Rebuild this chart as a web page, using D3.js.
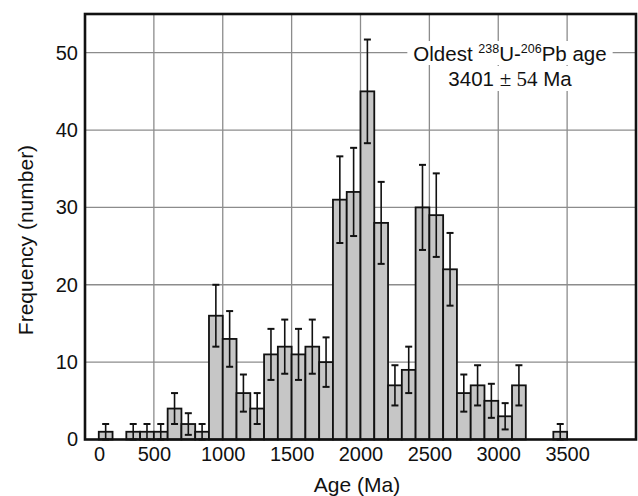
<!DOCTYPE html>
<html>
<head>
<meta charset="utf-8">
<script src="https://cdn.jsdelivr.net/npm/d3@7"></script>
<style>
  body { margin: 0; background: #fff; }
  svg text { font-family: "Liberation Sans", Arial, sans-serif; fill: #111; }
</style>
</head>
<body>
<div id="chart"></div>
<script>
// Histogram bins (start age, Ma), counts and error half-widths
const binStarts = [100, 300, 400, 500, 600, 700, 800, 900, 1000, 1100, 1200, 1300, 1400, 1500, 1600, 1700,
    1800, 1900, 2000, 2100, 2200, 2300, 2400, 2500, 2600, 2700, 2800, 2900, 3000, 3100, 3400];
const counts = [1, 1, 1, 1, 4, 2, 1, 16, 13, 6, 4, 11, 12, 11, 12, 10,
    31, 32, 45, 28, 7, 9, 30, 29, 22, 6, 7, 5, 3, 7, 1];
const errors = [1, 1, 1, 1, 2, 1.4, 1, 4, 3.6, 2.4, 2, 3.3, 3.5, 3.3, 3.5, 3.2,
    5.6, 5.7, 6.7, 5.3, 2.6, 3, 5.5, 5.4, 4.7, 2.4, 2.6, 2.2, 1.7, 2.6, 1];
const binWidth = 100;
const xTicks = [0, 500, 1000, 1500, 2000, 2500, 3000, 3500];
const xGrid = [500, 1000, 1500, 2000, 2500, 3000, 3500];
const yTicks = [0, 10, 20, 30, 40, 50];
const yGrid = [10, 20, 30, 40, 50];

const width = 638;
const height = 496;
const margin = { top: 14, right: 2, bottom: 56.5, left: 85 };

const svg = d3.select('#chart')
    .append('svg')
    .attr('width', width)
    .attr('height', height);

const x = d3.scaleLinear()
    .domain([0, 4000])
    .range([margin.left, width - margin.right]);

const y = d3.scaleLinear()
    .domain([0, 55])
    .range([height - margin.bottom, margin.top]);

// grid
svg.append('g')
    .selectAll('line')
    .data(xGrid)
    .enter().append('line')
    .attr('x1', d => x(d)).attr('x2', d => x(d))
    .attr('y1', y(55)).attr('y2', y(0))
    .attr('stroke', '#8c8c8c')
    .attr('stroke-width', 1.3);

svg.append('g')
    .selectAll('line')
    .data(yGrid)
    .enter().append('line')
    .attr('x1', x(0)).attr('x2', x(4000))
    .attr('y1', d => y(d)).attr('y2', d => y(d))
    .attr('stroke', '#8c8c8c')
    .attr('stroke-width', 1.3);

// annotation, with white background behind each line
const note = svg.append('g');
const line1 = note.append('text')
    .attr('x', 510).attr('y', 61)
    .attr('text-anchor', 'middle')
    .style('font-size', '20.5px');
line1.append('tspan').text('Oldest ');
line1.append('tspan').text('238').style('font-size', '12.5px').attr('dy', -8);
line1.append('tspan').text('U-').attr('dy', 8);
line1.append('tspan').text('206').style('font-size', '12.5px').attr('dy', -8);
line1.append('tspan').text('Pb age').attr('dy', 8);

const line2 = note.append('text')
    .attr('x', 510).attr('y', 86)
    .attr('text-anchor', 'middle')
    .style('font-size', '20.5px');
line2.append('tspan').text('3401 ');
line2.append('tspan').text('± 54').style('font-family', '"Liberation Serif", serif').style('font-size', '21px');
line2.append('tspan').text(' Ma');

[line1, line2].forEach(t => {
    const b = t.node().getBBox();
    note.insert('rect', 'text')
        .attr('x', b.x - 6).attr('y', b.y - 1)
        .attr('width', b.width + 12).attr('height', b.height + 1)
        .attr('fill', '#fff');
});

// bars
svg.append('g')
    .selectAll('rect')
    .data(counts)
    .enter().append('rect')
    .attr('x', (d, i) => x(binStarts[i]))
    .attr('y', d => y(d))
    .attr('width', (d, i) => x(binStarts[i] + binWidth) - x(binStarts[i]))
    .attr('height', d => y(0) - y(d))
    .attr('fill', '#c6c6c6')
    .attr('stroke', '#111')
    .attr('stroke-width', 1.8);

// error bars
const err = svg.append('g')
    .attr('stroke', '#111')
    .attr('stroke-width', 1.6);

const cx = i => x(binStarts[i] + binWidth / 2);

err.selectAll('.stem')
    .data(counts)
    .enter().append('line')
    .attr('class', 'stem')
    .attr('x1', (d, i) => cx(i)).attr('x2', (d, i) => cx(i))
    .attr('y1', (d, i) => y(d - errors[i]))
    .attr('y2', (d, i) => y(d + errors[i]));

err.selectAll('.capTop')
    .data(counts)
    .enter().append('line')
    .attr('class', 'capTop')
    .attr('x1', (d, i) => cx(i) - 3.5).attr('x2', (d, i) => cx(i) + 3.5)
    .attr('y1', (d, i) => y(d + errors[i]))
    .attr('y2', (d, i) => y(d + errors[i]))
    .attr('stroke-width', 2);

err.selectAll('.capBot')
    .data(counts)
    .enter().append('line')
    .attr('class', 'capBot')
    .attr('x1', (d, i) => cx(i) - 3.5).attr('x2', (d, i) => cx(i) + 3.5)
    .attr('y1', (d, i) => y(Math.max(0, d - errors[i])))
    .attr('y2', (d, i) => y(Math.max(0, d - errors[i])))
    .attr('stroke-width', 2);

// frame
svg.append('rect')
    .attr('x', x(0)).attr('y', y(55))
    .attr('width', x(4000) - x(0))
    .attr('height', y(0) - y(55))
    .attr('fill', 'none')
    .attr('stroke', '#111')
    .attr('stroke-width', 2.6);

// axes
const xAxis = d3.axisBottom(x).tickValues(xTicks).tickFormat(d3.format('d')).tickSize(0).tickPadding(7);
svg.append('g')
    .attr('transform', `translate(0,${y(0)})`)
    .call(xAxis)
    .call(g => g.select('.domain').remove())
    .selectAll('text')
    .attr('dx', d => d === 0 ? 14 : 0)
    .style('font-size', '20px')
    .style('font-family', '"Liberation Sans", Arial, sans-serif')
    .attr('fill', '#111');

const yAxis = d3.axisLeft(y).tickValues(yTicks).tickFormat(d3.format('d')).tickSize(0).tickPadding(7);
svg.append('g')
    .attr('transform', `translate(${x(0)},0)`)
    .call(yAxis)
    .call(g => g.select('.domain').remove())
    .selectAll('text')
    .style('font-size', '20px')
    .style('font-family', '"Liberation Sans", Arial, sans-serif')
    .attr('fill', '#111');

// axis titles
svg.append('text')
    .attr('x', 357)
    .attr('y', 492)
    .attr('text-anchor', 'middle')
    .style('font-size', '21px')
    .text('Age (Ma)');

svg.append('text')
    .attr('transform', 'translate(33,240) rotate(-90)')
    .attr('text-anchor', 'middle')
    .style('font-size', '21px')
    .text('Frequency (number)');
</script>
</body>
</html>
